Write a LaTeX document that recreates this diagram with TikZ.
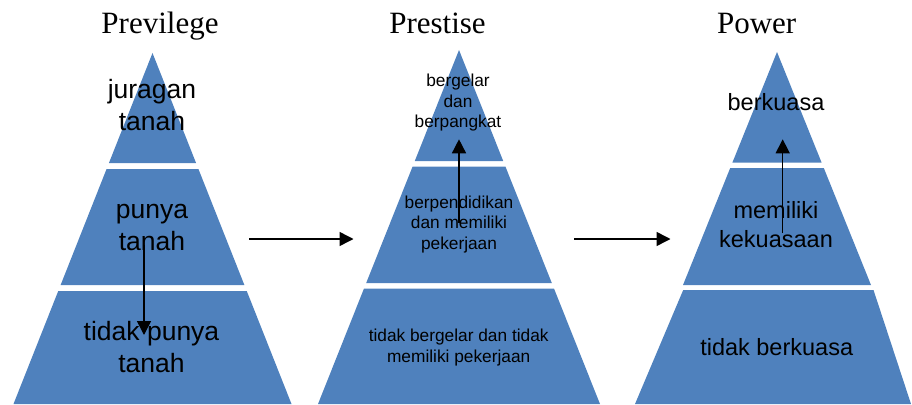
\documentclass[tikz,border=0pt]{standalone}
\usepackage{fontspec}
\setmainfont{Liberation Serif}
\setsansfont{Liberation Sans}
\usetikzlibrary{arrows.meta}
\definecolor{tierblue}{HTML}{4F81BD}
\tikzset{
  tierfill/.style={fill=tierblue},
  title/.style={font=\rmfamily\fontsize{31}{36}\selectfont, anchor=base, inner sep=0pt},
  bigtxt/.style={font=\sffamily\fontsize{26.5}{32}\selectfont, align=center, anchor=base, inner sep=0pt},
  smalltxt/.style={font=\sffamily\fontsize{17.3}{20.5}\selectfont, align=center, anchor=base, inner sep=0pt},
  midtxt/.style={font=\sffamily\fontsize{23.5}{29.7}\selectfont, align=center, anchor=base, inner sep=0pt},
  flow/.style={line width=1.5pt, -{Triangle[length=14pt,width=14pt]}}
}
% tier: cx, apex y, half base width, ytop, ybot
\newcommand\pyrtier[5]{%
  \pgfmathsetmacro\tws{#3/(404-#2)}%
  \pgfmathsetmacro\twa{\tws*(#4-#2)}%
  \pgfmathsetmacro\twb{\tws*(#5-#2)}%
  \fill[tierfill] (#1-\twa,#4) -- (#1+\twa,#4) -- (#1+\twb,#5) -- (#1-\twb,#5) -- cycle;%
}
\begin{document}
\begin{tikzpicture}[x=1pt,y=-1pt]
\useasboundingbox (0,0) rectangle (912,404);
\begin{scope}
\clip (0,0) rectangle (912,404);
% pyramid 1
\pyrtier{152.5}{53}{139}{53}{163}
\pyrtier{152.5}{53}{139}{169}{285}
\pyrtier{152.5}{53}{139}{291}{404}
% pyramid 2
\pyrtier{459}{50}{141}{50}{161}
\pyrtier{459}{50}{141}{166.5}{283}
\pyrtier{459}{50}{141}{288.5}{404}
% pyramid 3
\pyrtier{777}{52}{142}{52}{162.7}
\pyrtier{777}{52}{142}{168}{285}
\fill[tierfill] (683.2,290) -- (873.5,290) -- (911,404) -- (635,404) -- cycle;
\end{scope}
% titles
\node[title] (t1) at (160,34) {Previlege};
\node[title] (t2) at (437.5,34) {Prestise};
\node[title] (t3) at (756.7,34) {Power};
% pyramid 1 texts (y = baseline of last line)
\node[bigtxt] (a1) at (152,130) {juragan\\tanah};
\node[bigtxt] (a2) at (152,250) {punya\\tanah};
\node[bigtxt] (a3) at (151.5,372) {tidak punya\\tanah};
% pyramid 2 texts
\node[smalltxt] (b1) at (458,127.7) {bergelar\\dan\\berpangkat};
\node[smalltxt] (b2) at (459,249) {berpendidikan\\dan memiliki\\pekerjaan};
\node[smalltxt] (b3) at (458.7,362) {tidak bergelar dan tidak\\memiliki pekerjaan};
% pyramid 3 texts
\node[midtxt] (c1) at (776,110) {berkuasa};
\node[midtxt] (c2) at (776,247.7) {memiliki\\kekuasaan};
\node[midtxt] (c3) at (776.7,355) {tidak berkuasa};
% arrow coordinates
\coordinate (p1s) at (144,245);
\coordinate (p1e) at (144,335);
\coordinate (p2s) at (459,222.7);
\coordinate (p2e) at (459,139.3);
\coordinate (p3s) at (782.7,233);
\coordinate (p3e) at (782.7,139.3);
\coordinate (h1s) at (249,239);
\coordinate (h1e) at (353.5,239);
\coordinate (h2s) at (574,239);
\coordinate (h2e) at (670.5,239);
\draw[flow] (p1s) -- (p1e);
\draw[flow] (p2s) -- (p2e);
\draw[flow] (p3s) -- (p3e);
\draw[flow] (h1s) -- (h1e);
\draw[flow] (h2s) -- (h2e);
\end{tikzpicture}
\end{document}
